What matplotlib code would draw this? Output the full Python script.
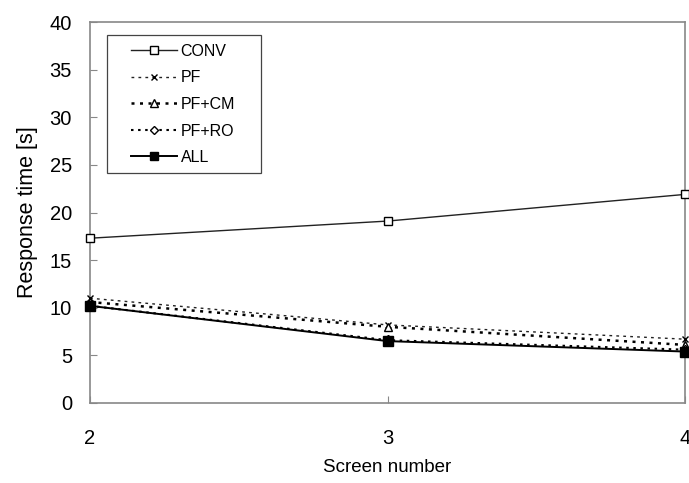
import matplotlib
matplotlib.use("Agg")
import matplotlib.pyplot as plt
from matplotlib.patches import Rectangle

# ==============================
# DATA
# ==============================

screens = [2, 3, 4]
conv = [17.3, 19.1, 21.9]
pf = [11.0, 8.2, 6.7]
pf_cm = [10.6, 8.0, 6.1]
pf_ro = [10.2, 6.6, 5.6]
all_ = [10.2, 6.5, 5.4]

y_ticks = [0, 5, 10, 15, 20, 25, 30, 35, 40]

plt.rcParams["font.family"] = ["Liberation Sans", "DejaVu Sans"]

W, H = 689, 483
fig = plt.figure(figsize=(W / 100, H / 100), dpi=100)
ax = fig.add_axes([90 / W, 1 - 403 / H, 595 / W, 381 / H])

ax.plot(screens, conv, "-", color="#222222", lw=1.0, marker="s", ms=6,
        mfc="white", mec="black", mew=1.0, label="CONV", clip_on=False, zorder=5)
ax.plot(screens, pf, color="#222222", lw=1.0, ls=(0, (2, 3)), marker="x", ms=5,
        mec="black", mew=1.0, label="PF", clip_on=False, zorder=4)
ax.plot(screens, pf_cm, color="black", lw=1.8, ls=(0, (1.2, 2.2)), marker="^", ms=6,
        mfc="white", mec="black", mew=1.0, label="PF+CM", clip_on=False, zorder=4)
ax.plot(screens, pf_ro, color="black", lw=1.5, ls=(0, (1.2, 2.2)), marker="D", ms=5,
        mfc="white", mec="black", mew=1.0, label="PF+RO", clip_on=False, zorder=4)
ax.plot(screens, all_, "-", color="black", lw=1.4, marker="s", ms=7,
        mfc="black", mec="black", label="ALL", clip_on=False, zorder=6)

ax.set_xlim(2, 4)
ax.set_ylim(0, 40)
ax.set_xticks(screens)
ax.set_yticks(y_ticks)

for s in ax.spines.values():
    s.set_color("#888888")
    s.set_linewidth(1.2)

ax.tick_params(axis="y", direction="in", length=5, color="#888888",
               labelsize=14.5, pad=13)
ax.tick_params(axis="x", direction="in", length=5, color="#888888",
               labelsize=14.5, pad=19)

ax.set_xlabel("Screen number", fontsize=13.5, labelpad=8)
ax.set_ylabel("Response time [s]", fontsize=15.5, labelpad=8)

# legend box (wider than its content, like the original)
box = Rectangle((107 / W, 1 - 173 / H), 154 / W, 138 / H,
                transform=fig.transFigure, facecolor="white",
                edgecolor="#444444", linewidth=0.9, zorder=9, clip_on=False)
ax.add_patch(box)
leg = ax.legend(loc="upper left", bbox_to_anchor=(131 / W, 1 - 44 / H),
                bbox_transform=fig.transFigure, fontsize=11.5, frameon=False,
                handlelength=2.9, handletextpad=0.2, labelspacing=0.72,
                borderpad=0, borderaxespad=0, markerscale=0.85)
leg.set_zorder(10)

fig.savefig("out.png", dpi=100)
